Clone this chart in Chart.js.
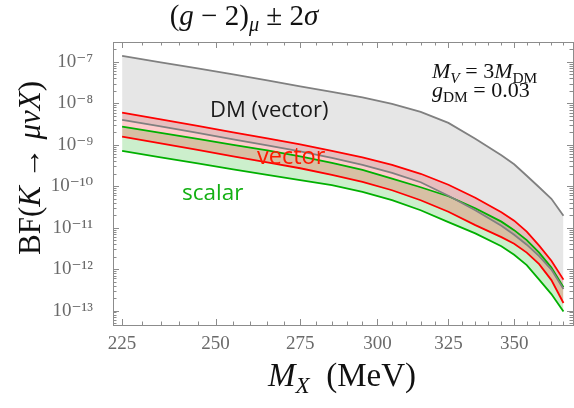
<!DOCTYPE html>
<html>
<head>
<meta charset="utf-8">
<script src="https://cdn.jsdelivr.net/npm/chart.js@4.4.0/dist/chart.umd.min.js"></script>
<style>
  html, body { margin: 0; padding: 0; background: #fff; }
</style>
</head>
<body>
<canvas id="myChart" width="574" height="408"></canvas>
<script>
// masas M_X (MeV)
const masas = [225, 235, 245, 255, 265, 275, 285, 295, 305, 315, 325, 335, 345, 350, 355, 360, 365, 370];

// DM (vector): banda gris
const dmArriba = [1.40e-7, 9.73e-8, 6.97e-8, 5.00e-8, 3.58e-8, 2.57e-8, 1.89e-8, 1.40e-8, 9.73e-9, 6.24e-9, 3.39e-9, 1.40e-9, 5.58e-10, 3.39e-10, 1.79e-10, 9.46e-11, 5.00e-11, 1.95e-11];
const dmAbajo = [4.00e-9, 2.79e-9, 1.95e-9, 1.36e-9, 9.73e-10, 6.97e-10, 4.86e-10, 3.30e-10, 2.11e-10, 1.25e-10, 5.90e-11, 2.64e-11, 1.12e-11, 6.78e-12, 3.89e-12, 2.06e-12, 9.73e-13, 3.30e-13];

// vector: banda roja
const vecArriba = [6.00e-9, 4.12e-9, 2.87e-9, 2.00e-9, 1.44e-9, 1.03e-9, 7.16e-10, 5.00e-10, 3.30e-10, 2.00e-10, 1.09e-10, 5.28e-11, 2.36e-11, 1.48e-11, 8.02e-12, 3.68e-12, 1.60e-12, 5.58e-13];
const vecAbajo = [1.58e-9, 1.09e-9, 7.59e-10, 5.28e-10, 3.79e-10, 2.72e-10, 1.89e-10, 1.28e-10, 8.01e-11, 4.60e-11, 2.43e-11, 1.15e-11, 5.90e-12, 4.11e-12, 2.50e-12, 1.32e-12, 5.43e-13, 1.52e-13];

// scalar: banda verde
const escArriba = [2.76e-9, 1.95e-9, 1.40e-9, 1.00e-9, 7.36e-10, 5.28e-10, 3.68e-10, 2.50e-10, 1.52e-10, 9.46e-11, 5.74e-11, 2.95e-11, 1.40e-11, 8.71e-12, 5.00e-12, 2.50e-12, 1.09e-12, 3.68e-13];
const escAbajo = [7.16e-10, 5.00e-10, 3.58e-10, 2.57e-10, 1.89e-10, 1.40e-10, 1.06e-10, 7.36e-11, 4.60e-11, 2.64e-11, 1.36e-11, 7.30e-12, 3.58e-12, 2.23e-12, 1.25e-12, 5.58e-13, 2.50e-13, 9.46e-14];

// marcas de los ejes
const ticksX = [225, 250, 275, 300, 325, 350];
const ticksY = [-13, -12, -11, -10, -9, -8, -7];

const serif = '"Liberation Serif", "DejaVu Serif", serif';
const sans = '"Open Sans", "DejaVu Sans", sans-serif';
const grisEje = "#8c8c8c";
const grisTexto = "#6a6a6a";

const sup = { "-": "\u207B", "0": "\u2070", "1": "\u00B9", "2": "\u00B2", "3": "\u00B3", "4": "\u2074", "5": "\u2075", "6": "\u2076", "7": "\u2077", "8": "\u2078", "9": "\u2079" };
const potencia = (e) => "10" + String(e).split("").map((c) => sup[c]).join("");

const puntos = (ys) => masas.map((m, i) => ({ x: m, y: ys[i] }));

const linea = (label, ys, color, fill, fondo) => ({
  label,
  data: puntos(ys),
  borderColor: color,
  borderWidth: 1.8,
  pointRadius: 0,
  tension: 0,
  fill,
  backgroundColor: fondo,
});

// texto con partes en cursiva y subindices
const dibujarRico = (ctx, partes, x, y, tam, alinear) => {
  let ancho = 0;
  const medidas = partes.map((p) => {
    const t = p.sub ? tam * 0.7 : tam;
    const fuente = `${p.it ? "italic " : ""}${t}px ${serif}`;
    ctx.font = fuente;
    const w = ctx.measureText(p.t).width;
    ancho += w;
    return { w, fuente };
  });
  let cx = alinear === "center" ? x - ancho / 2 : x;
  ctx.textAlign = "left";
  ctx.textBaseline = "alphabetic";
  partes.forEach((p, i) => {
    ctx.font = medidas[i].fuente;
    ctx.fillText(p.t, cx, y + (p.sub ? tam * 0.22 : 0));
    cx += medidas[i].w;
  });
};

const marcasPlugin = {
  id: "marcas",
  afterDatasetsDraw(chart) {
    const { ctx, chartArea: a, scales } = chart;
    const x = scales.x;
    const y = scales.y;
    ctx.save();
    ctx.strokeStyle = grisEje;
    ctx.lineWidth = 1;
    ctx.beginPath();
    // marcas en x cada 5 MeV
    for (let m = 225; m <= 370; m += 5) {
      const px = Math.round(x.getPixelForValue(m)) + 0.5;
      const largo = m % 25 === 0 ? 6 : 3.5;
      ctx.moveTo(px, a.bottom);
      ctx.lineTo(px, a.bottom - largo);
      ctx.moveTo(px, a.top);
      ctx.lineTo(px, a.top + largo);
    }
    // marcas en y (log)
    for (let e = -14; e <= -7; e++) {
      for (let k = 1; k <= 9; k++) {
        const v = k * Math.pow(10, e);
        if (v < y.min || v > y.max) continue;
        const py = Math.round(y.getPixelForValue(v)) + 0.5;
        const largo = k === 1 ? 6 : 3.5;
        ctx.moveTo(a.left, py);
        ctx.lineTo(a.left + largo, py);
        ctx.moveTo(a.right, py);
        ctx.lineTo(a.right - largo, py);
      }
    }
    ctx.stroke();
    ctx.strokeRect(Math.round(a.left) + 0.5, Math.round(a.top) + 0.5, Math.round(a.right - a.left), Math.round(a.bottom - a.top));

    // etiquetas dentro del grafico
    ctx.textAlign = "left";
    ctx.textBaseline = "alphabetic";
    ctx.font = `22px ${sans}`;
    ctx.fillStyle = "#1a1a1a";
    ctx.fillText("DM (vector)", 210, 117);
    ctx.font = `23.5px ${sans}`;
    ctx.fillStyle = "#ff1a00";
    ctx.fillText("vector", 257, 164);
    ctx.font = `22.5px ${sans}`;
    ctx.fillStyle = "rgb(20,176,20)";
    ctx.fillText("scalar", 182, 200);

    ctx.fillStyle = "#111";
    dibujarRico(ctx, [
      { t: "M", it: true }, { t: "V", it: true, sub: true }, { t: " = 3", it: false },
      { t: "M", it: true }, { t: "DM", it: false, sub: true },
    ], 432, 78, 22, "left");
    dibujarRico(ctx, [
      { t: "g", it: true }, { t: "DM", it: false, sub: true }, { t: " = 0.03", it: false },
    ], 432, 97, 22, "left");
    ctx.restore();
  },
  afterDraw(chart) {
    const { ctx } = chart;
    ctx.save();
    ctx.fillStyle = "#111";
    // titulo
    dibujarRico(ctx, [
      { t: "(", it: false }, { t: "g", it: true }, { t: " \u2212 2)", it: false },
      { t: "\u03BC", it: true, sub: true }, { t: " \u00B1 2", it: false }, { t: "\u03C3", it: true },
    ], 244, 25, 29, "center");
    // eje x
    dibujarRico(ctx, [
      { t: "M", it: true }, { t: "X", it: true, sub: true }, { t: "  (MeV)", it: false },
    ], 342, 386, 33, "center");
    // eje y
    ctx.translate(40, 168);
    ctx.rotate(-Math.PI / 2);
    dibujarRico(ctx, [
      { t: "BF(", it: false }, { t: "K", it: true }, { t: " \u2192 ", it: false },
      { t: "\u03BC\u03BDX", it: true }, { t: ")", it: false },
    ], 0, 0, 31, "center");
    ctx.restore();
  },
};

const canvas = document.getElementById("myChart");
const myChart = new Chart(canvas, {
  type: "line",
  data: {
    datasets: [
      linea("DM arriba", dmArriba, "#808080", { target: 1 }, "rgba(128,128,128,0.2)"),
      linea("DM abajo", dmAbajo, "#808080", false, "transparent"),
      linea("vector arriba", vecArriba, "#ff0000", { target: 3 }, "rgba(255,0,0,0.2)"),
      linea("vector abajo", vecAbajo, "#ff0000", false, "transparent"),
      linea("scalar arriba", escArriba, "rgb(0,176,0)", { target: 5 }, "rgba(0,176,0,0.2)"),
      linea("scalar abajo", escAbajo, "rgb(0,176,0)", false, "transparent"),
    ],
  },
  options: {
    responsive: false,
    animation: false,
    devicePixelRatio: 1,
    layout: { padding: { top: 42, right: 1, left: 0, bottom: 0 } },
    plugins: {
      legend: { display: false },
      tooltip: { enabled: false },
      filler: { drawTime: "beforeDatasetsDraw" },
    },
    scales: {
      x: {
        type: "logarithmic",
        min: 222.7,
        max: 374,
        grid: { display: false },
        border: { display: false },
        afterBuildTicks: (s) => { s.ticks = ticksX.map((v) => ({ value: v })); },
        afterFit: (s) => { s.height = 83; },
        ticks: {
          autoSkip: false,
          maxRotation: 0,
          padding: 0,
          color: grisTexto,
          font: { family: serif, size: 19 },
          callback: (v) => String(v),
        },
      },
      y: {
        type: "logarithmic",
        min: Math.pow(10, -13.349),
        max: Math.pow(10, -6.518),
        grid: { display: false },
        border: { display: false },
        afterBuildTicks: (s) => { s.ticks = ticksY.map((e) => ({ value: Math.pow(10, e) })); },
        afterFit: (s) => { s.width = 113; },
        ticks: {
          autoSkip: false,
          padding: 12,
          color: grisTexto,
          font: { family: serif, size: 19 },
          callback: (v) => potencia(Math.round(Math.log10(v))),
        },
      },
    },
  },
  plugins: [marcasPlugin],
});
</script>
</body>
</html>
